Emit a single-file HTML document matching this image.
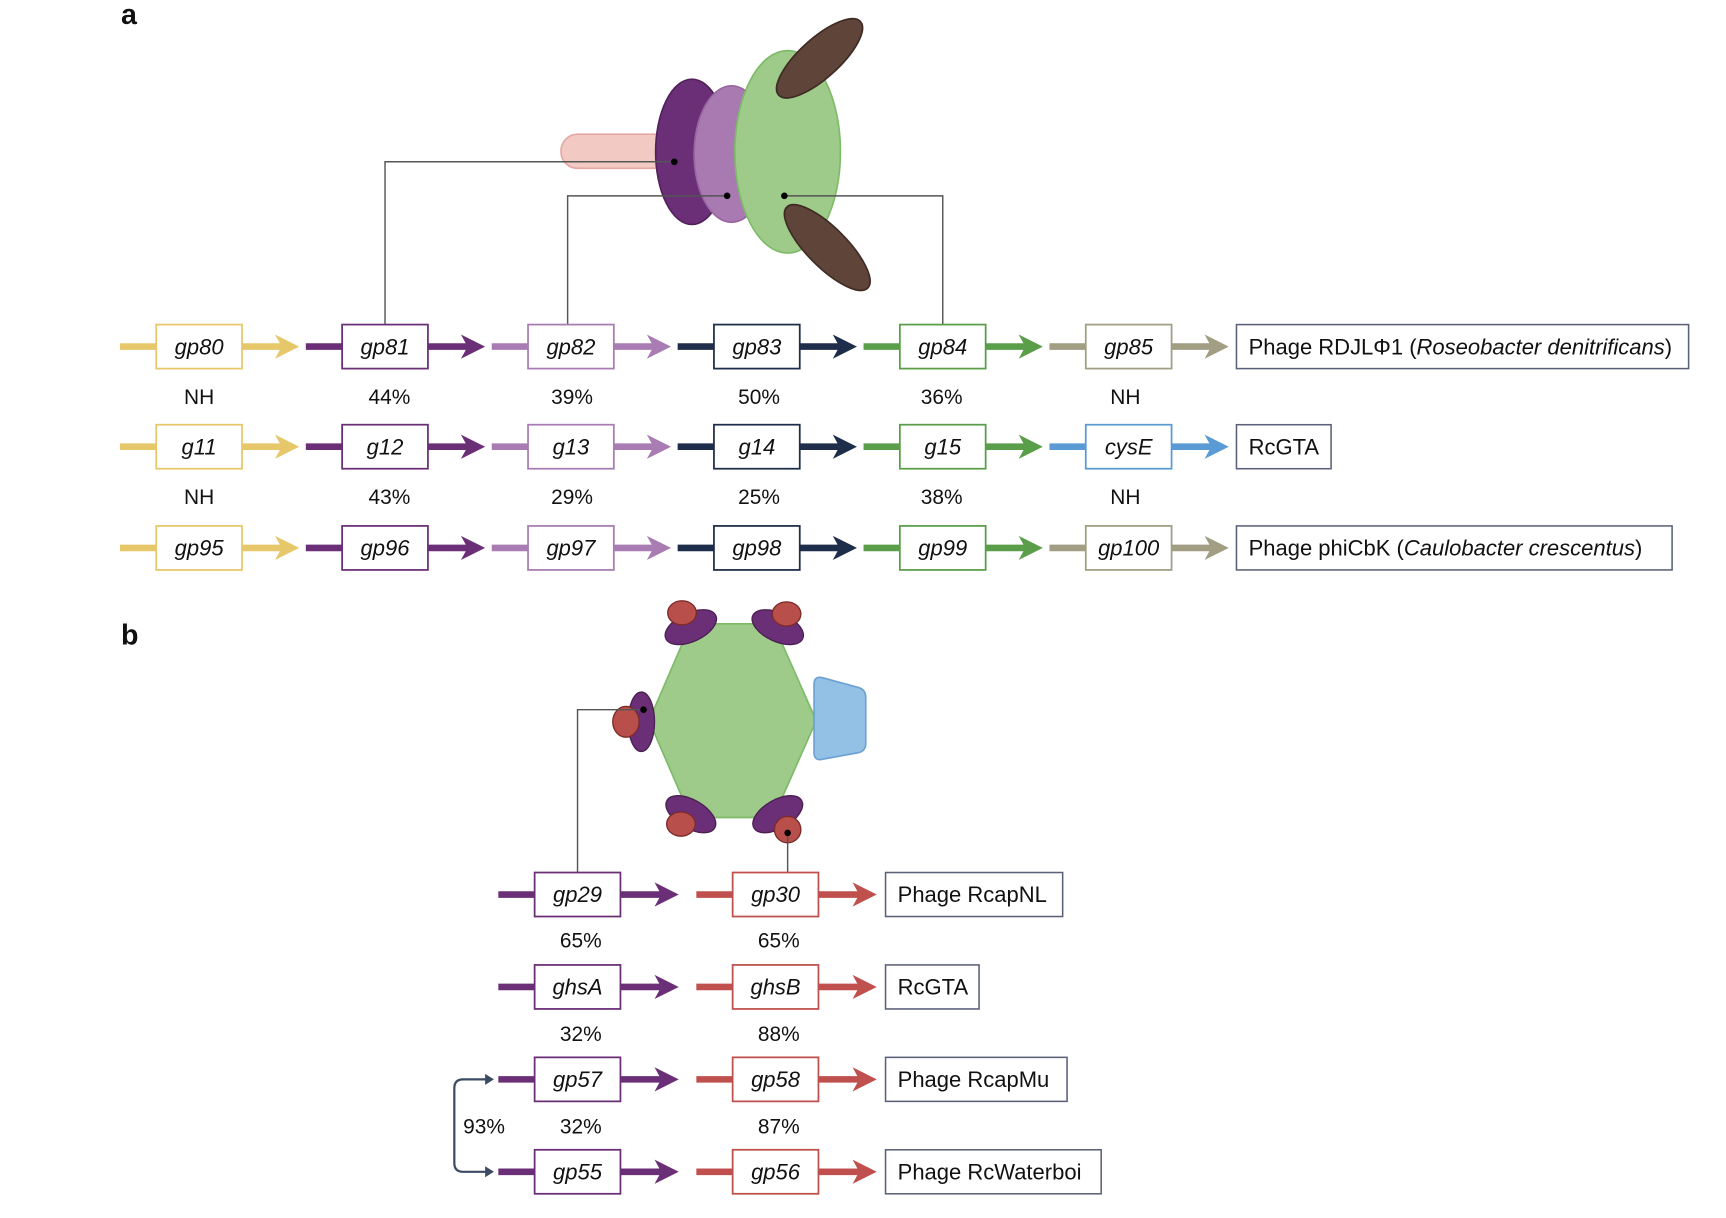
<!DOCTYPE html>
<html><head><meta charset="utf-8"><style>
html,body{margin:0;padding:0;background:#fff;}
svg{display:block;}
text{font-family:"Liberation Sans",sans-serif;fill:#111;}
.g{font-style:italic;font-size:20px;text-anchor:middle;}
.p{font-size:19px;text-anchor:middle;}
.l{font-size:20px;}
</style></head><body>
<svg width="1726" height="1218" viewBox="0 0 1569 1107" preserveAspectRatio="none" xmlns="http://www.w3.org/2000/svg">
<text x="110" y="22" style="font-weight:bold;font-size:26px">a</text>
<text x="110" y="586" style="font-weight:bold;font-size:26px">b</text>

<rect x="510" y="122" width="100" height="31" rx="15" fill="#f2c9c3" stroke="#e3a9a2" stroke-width="1.5"/>
<ellipse cx="629" cy="138" rx="33" ry="66" fill="#6b2f77" stroke="#52215c" stroke-width="1.5"/>
<ellipse cx="665" cy="140" rx="34" ry="62" fill="#a97ab2" stroke="#98679f" stroke-width="1.5"/>
<ellipse cx="716" cy="138" rx="48" ry="92" fill="#9ecb8a" stroke="#7dbb67" stroke-width="1.5"/>
<ellipse cx="745" cy="53" rx="50" ry="18" transform="rotate(-42 745 53)" fill="#5e4439" stroke="#3f2b23" stroke-width="1.5"/>
<ellipse cx="752" cy="225" rx="52" ry="18" transform="rotate(45 752 225)" fill="#5e4439" stroke="#3f2b23" stroke-width="1.5"/>
<g fill="none" stroke="#555" stroke-width="1.3">
<polyline points="613,147 350,147 350,295"/>
<polyline points="661,178 516,178 516,295"/>
<polyline points="713,178 857,178 857,295"/>
</g>
<circle cx="613" cy="147" r="3" fill="#000"/><circle cx="661" cy="178" r="3" fill="#000"/><circle cx="713" cy="178" r="3" fill="#000"/>

<polygon points="628,567 703,567 742,655 703,743 628,743 590,655" fill="#9ecb8a" stroke="#7dbb67" stroke-width="1.5"/>
<path d="M740 622 Q740 614 748 616 L781 625 Q787 627 787 634 L787 676 Q787 682 781 684 L748 690 Q740 692 740 684 Z" fill="#93c1e6" stroke="#6ba1d4" stroke-width="1.5"/>
<g stroke="#4a1f52" stroke-width="1.2">
<ellipse cx="628" cy="570" rx="25" ry="13" transform="rotate(-25 628 570)" fill="#6b2f77"/>
<ellipse cx="620" cy="557" rx="13" ry="11" fill="#b84f4a" stroke="#7a2b28"/>
<ellipse cx="707" cy="570" rx="25" ry="13" transform="rotate(25 707 570)" fill="#6b2f77"/>
<ellipse cx="715" cy="558" rx="13" ry="11" fill="#b84f4a" stroke="#7a2b28"/>
<ellipse cx="583" cy="656" rx="12" ry="27" fill="#6b2f77"/>
<ellipse cx="569" cy="656" rx="12" ry="14" fill="#b84f4a" stroke="#7a2b28"/>
<ellipse cx="628" cy="740" rx="25" ry="13" transform="rotate(30 628 740)" fill="#6b2f77"/>
<ellipse cx="619" cy="749" rx="13" ry="11" fill="#b84f4a" stroke="#7a2b28"/>
<ellipse cx="707" cy="740" rx="25" ry="13" transform="rotate(-30 707 740)" fill="#6b2f77"/>
<ellipse cx="716" cy="754" rx="12" ry="12" fill="#b84f4a" stroke="#7a2b28"/>
</g>
<g fill="none" stroke="#555" stroke-width="1.3">
<polyline points="585,645 525,645 525,793"/>
<line x1="716" y1="757" x2="716" y2="793"/>
</g>
<circle cx="585" cy="645" r="3" fill="#000"/><circle cx="716" cy="757" r="3" fill="#000"/>

<script>
(function(){
var svg=document.querySelector('svg');
var NS='http://www.w3.org/2000/svg';
function el(t,a,txt){var e=document.createElementNS(NS,t);for(var k in a)e.setAttribute(k,a[k]);if(txt!=null)e.textContent=txt;svg.appendChild(e);return e;}
function gene(x0,x1,y,col,name,boxW){
 var bl=x0+33, br=bl+boxW;
 el('line',{x1:x0,y1:y,x2:bl,y2:y,stroke:col,'stroke-width':6});
 el('line',{x1:br,y1:y,x2:x1-16,y2:y,stroke:col,'stroke-width':6});
 el('polygon',{points:(x1-22)+','+(y-11)+' '+x1+','+y+' '+(x1-22)+','+(y+11)+' '+(x1-16)+','+y,fill:col});
 el('rect',{x:bl,y:y-20,width:boxW,height:40,fill:'#fff',stroke:col,'stroke-width':1.6});
 el('text',{x:bl+boxW/2,y:y+7,'class':'g'},name);
}
function label(x,y,w,parts){
 el('rect',{x:x,y:y-20,width:w,height:40,fill:'#fff',stroke:'#5a6078','stroke-width':1.4});
 var t=el('text',{x:x+11,y:y+7,'class':'l'});
 parts.forEach(function(p){var s=document.createElementNS(NS,'tspan');s.textContent=p[0];if(p[1])s.setAttribute('font-style','italic');t.appendChild(s);});
}
var Y='#e6c86a',P='#6b2f77',LP='#a97db3',N='#1e2d4a',G='#5a9e4a',O='#a19e83',B='#5b9bd5';
var xs=[109,278,447,616,785,954];
var rows=[[315,['gp80','gp81','gp82','gp83','gp84','gp85'],[Y,P,LP,N,G,O]],
          [406,['g11','g12','g13','g14','g15','cysE'],[Y,P,LP,N,G,B]],
          [498,['gp95','gp96','gp97','gp98','gp99','gp100'],[Y,P,LP,N,G,O]]];
rows.forEach(function(r){for(var i=0;i<6;i++)gene(xs[i],xs[i]+163,r[0],r[2][i],r[1][i],78);});
label(1124,315,411,[['Phage RDJLΦ1 ('],['Roseobacter denitrificans',1],[')']]);
label(1124,406,86,[['RcGTA']]);
label(1124,498,396,[['Phage phiCbK ('],['Caulobacter crescentus',1],[')']]);
var pa=[['NH','44%','39%','50%','36%','NH'],['NH','43%','29%','25%','38%','NH']];
var cx=[181,354,520,690,856,1023];
pa.forEach(function(r,j){r.forEach(function(s,i){el('text',{x:cx[i],y:(j?458:367),'class':'p'},s);});});
var rb=[[813,'gp29','gp30','Phage RcapNL',161],[897,'ghsA','ghsB','RcGTA',85],[981,'gp57','gp58','Phage RcapMu',165],[1065,'gp55','gp56','Phage RcWaterboi',196]];
rb.forEach(function(r){gene(453,617,r[0],P,r[1],78);gene(633,797,r[0],'#c0504d',r[2],78);label(805,r[0],r[4],[[r[3]]]);});
var pb=[['65%','65%',861],['32%','88%',946],['32%','87%',1030]];
pb.forEach(function(r){el('text',{x:528,y:r[2],'class':'p'},r[0]);el('text',{x:708,y:r[2],'class':'p'},r[1]);});
el('text',{x:440,y:1030,'class':'p'},'93%');
el('path',{d:'M447 981 L421 981 Q413 981 413 989 L413 1057 Q413 1065 421 1065 L447 1065',fill:'none',stroke:'#3d4a63','stroke-width':2});
el('polygon',{points:'441,976 449,981 441,986',fill:'#3d4a63'});
el('polygon',{points:'441,1060 449,1065 441,1070',fill:'#3d4a63'});
})();
</script>
</svg>
</body></html>
